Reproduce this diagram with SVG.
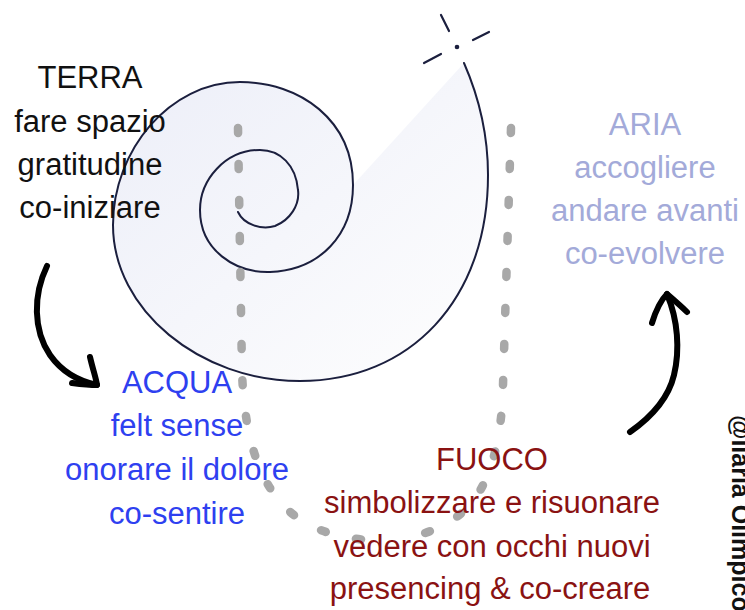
<svg xmlns="http://www.w3.org/2000/svg" width="745" height="610" viewBox="0 0 745 610">
<defs>
<linearGradient id="spfill" x1="0" y1="0" x2="1" y2="1">
<stop offset="0" stop-color="#eceef8"/>
<stop offset="1" stop-color="#fefefe"/>
</linearGradient>
</defs>
<style>
.t{font-family:"Liberation Sans",Arial,sans-serif;font-size:31px;text-anchor:middle}
.terra{fill:#111111}
.aria{fill:#a3aad9}
.acqua{fill:#2e40f0}
.fuoco{fill:#8a1212}
.sp{fill:none;stroke:#1b1f3e;stroke-width:2;stroke-linecap:round}
.dash{fill:none;stroke:#a8a8a8;stroke-width:8.5;stroke-linecap:round;stroke-dasharray:5 31}
.arr{fill:none;stroke:#000;stroke-width:6;stroke-linecap:round;stroke-linejoin:round}
</style>
<rect width="745" height="610" fill="#ffffff"/>
<g id="spiral">
<path d="M 464 63 C 478 95 488 130 488 175 C 488 300 410 381 300 381 C 200 381 113 310 113 225 C 113 150 170 82 240 82 C 300 82 353 120 353 185 Z" fill="url(#spfill)"/>
<path class="sp" d="M 238 212 C 244 225 262 230 275 226 C 290 220 300 205 298 190 C 296 165 280 150 260 150 C 225 150 200 180 200 210 C 200 250 235 273 270 272 C 320 270 353 235 353 185 C 353 120 300 82 240 82 C 170 82 113 150 113 225 C 113 310 200 381 300 381 C 410 381 488 300 488 175 C 488 130 478 95 464 63"/>
<g class="sp" style="stroke-width:2.2">
<line x1="441" y1="15" x2="449" y2="31"/>
<line x1="473" y1="40" x2="489" y2="32"/>
<line x1="424" y1="63" x2="441" y2="54"/>
</g>
<circle cx="457" cy="47" r="2.3" fill="#1b1f3e"/>
</g>
<g id="connectors">
<path id="path-dashed-left" class="dash" d="M 238 128 L 242 372 C 245 450 265 505 315 528 C 345 540 370 541 390 540"/>
<path id="path-dashed-right" class="dash" d="M 511 128 L 503 385 C 502 440 490 495 455 518 C 440 528 425 534 410 537"/>
<g id="arrow-terra-acqua" class="arr">
<path d="M 47 266 C 33 295 33 330 50 355 C 62 372 78 381 97 385"/>
<path d="M 90 357 C 93 370 96 378 97 385 C 88 385 80 384 72 383"/>
</g>
<g id="arrow-fuoco-aria" class="arr">
<path d="M 630 432 C 650 418 668 400 674 375 C 680 350 678 320 667 294"/>
<path d="M 652 323 C 656 310 661 300 667 294 C 674 300 681 306 687 312"/>
</g>
</g>
<g id="terra">
<text class="t terra" x="90" y="88">TERRA</text>
<text class="t terra" x="90" y="132">fare spazio</text>
<text class="t terra" x="90" y="175">gratitudine</text>
<text class="t terra" x="90" y="218">co-iniziare</text>
</g>
<g id="aria">
<text class="t aria" x="645" y="135">ARIA</text>
<text class="t aria" x="645" y="178">accogliere</text>
<text class="t aria" x="645" y="221">andare avanti</text>
<text class="t aria" x="645" y="264">co-evolvere</text>
</g>
<g id="acqua">
<text class="t acqua" x="177" y="393">ACQUA</text>
<text class="t acqua" x="177" y="436">felt sense</text>
<text class="t acqua" x="177" y="480">onorare il dolore</text>
<text class="t acqua" x="177" y="524">co-sentire</text>
</g>
<g id="fuoco">
<text class="t fuoco" x="492" y="470">FUOCO</text>
<text class="t fuoco" x="492" y="513">simbolizzare e risuonare</text>
<text class="t fuoco" x="492" y="557">vedere con occhi nuovi</text>
<text class="t fuoco" x="490" y="599">presencing &amp; co-creare</text>
</g>
<g id="watermark">
<text x="0" y="0" transform="translate(732,415) rotate(90)" font-family="Liberation Sans, Arial, sans-serif" font-size="25" font-weight="bold" fill="#111">@ilaria Olimpico</text>
</g>
</svg>
